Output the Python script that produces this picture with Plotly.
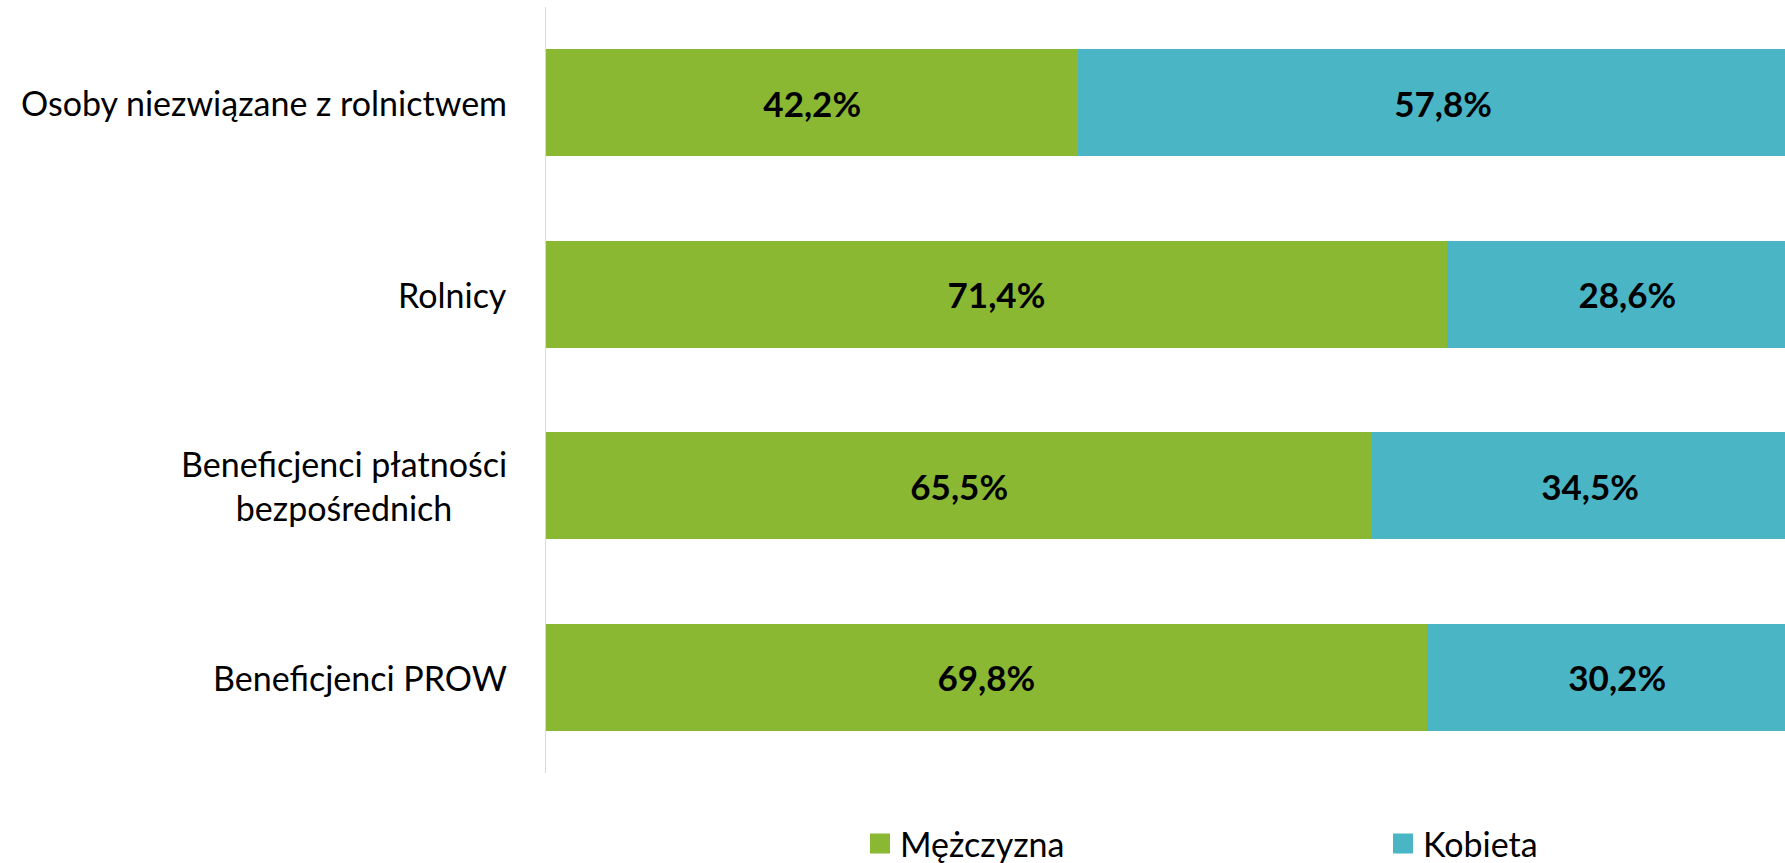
import plotly.graph_objects as go

categories = ["Osoby niezwiązane z rolnictwem", "Rolnicy",
              "Beneficjenci płatności<br>bezpośrednich", "Beneficjenci PROW"]
men = [42.2, 71.4, 65.5, 69.8]
women = [57.8, 28.6, 34.5, 30.2]
series_names = ["Mężczyzna", "Kobieta"]
colors = ["#8AB833", "#4AB5C5"]

FONT = "Lato"

def fmt(v):
    return f"{v:.1f}%".replace(".", ",")

fig = go.Figure()
legends = ["legend", "legend2"]
for name, vals, col, lg in zip(series_names, [men, women], colors, legends):
    fig.add_trace(go.Bar(
        y=categories, x=vals, orientation="h", name=name,
        marker=dict(color=col, line=dict(width=0)),
        text=[fmt(v) for v in vals], textposition="inside",
        insidetextanchor="middle",
        textfont=dict(family=FONT, size=35, color="black", weight="bold"),
        showlegend=False, cliponaxis=True,
    ))
    fig.add_trace(go.Scatter(
        x=[None], y=[None], mode="markers", name=name, legend=lg,
        marker=dict(symbol="square", size=16, color=col,
                    line=dict(width=4, color=col)),
    ))

for c in categories:
    fig.add_annotation(
        x=0, xref="paper", xshift=-37, y=c, yref="y",
        text=c, showarrow=False, xanchor="right", yanchor="middle",
        align="center", font=dict(family=FONT, size=34, color="black"),
    )

plot_l, plot_w = 546, 1239
leg_common = dict(orientation="h", xanchor="left", yref="container",
                  y=1 - 844 / 863, yanchor="middle",
                  font=dict(family=FONT, size=34), bgcolor="rgba(0,0,0,0)")

fig.update_layout(
    width=1785, height=863,
    margin=dict(l=546, r=0, t=7, b=90, autoexpand=False),
    paper_bgcolor="white", plot_bgcolor="white",
    barmode="stack", bargap=0.44,
    font=dict(family=FONT, size=34, color="black"),
    xaxis=dict(range=[0, 98.2], showgrid=False, showticklabels=False,
               zeroline=False, showline=False, fixedrange=True),
    yaxis=dict(categoryorder="array", categoryarray=categories,
               autorange="reversed", showticklabels=False, showgrid=False,
               zeroline=False, showline=True, linecolor="#D9D9D9",
               linewidth=1, ticks=""),
    legend=dict(x=(860 - plot_l) / plot_w, **leg_common),
    legend2=dict(x=(1383 - plot_l) / plot_w, **leg_common),
)

fig.write_html("out.html", config={"displayModeBar": False},
               post_script="document.body.style.margin='0';")
